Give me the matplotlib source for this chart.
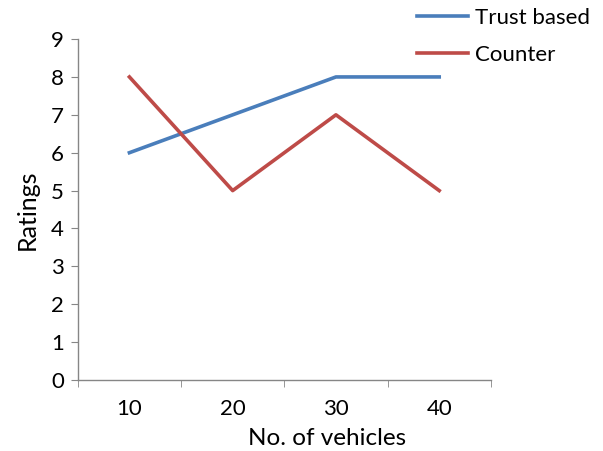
import matplotlib.pyplot as plt
import numpy as np

plt.rcParams['font.family'] = ['Lato', 'DejaVu Sans']

vehicles = ["10", "20", "30", "40"]
trust_based = [6, 7, 8, 8]
counter = [8, 5, 7, 5]

fig = plt.figure(figsize=(6.03, 4.51), dpi=100)
ax = fig.add_axes([0.129, 0.1574, 0.685, 0.756])

x = np.arange(len(vehicles))
ax.plot(x, trust_based, color="#4A7EBB", lw=2.6, label="Trust based")
ax.plot(x, counter, color="#BE4B48", lw=2.6, label="Counter")

ax.set_xlim(-0.5, len(vehicles) - 0.5)
ax.set_ylim(0, 9)
ax.set_yticks(range(0, 10))
ax.set_xticks(x)
ax.set_xticklabels(vehicles)
ax.set_xticks(np.arange(-0.5, len(vehicles)), minor=True)

for side in ("top", "right"):
    ax.spines[side].set_visible(False)
for side in ("left", "bottom"):
    ax.spines[side].set_color("#868686")
    ax.spines[side].set_linewidth(1.0)

ax.tick_params(axis="y", length=5, color="#868686", labelsize=16, pad=5)
ax.tick_params(axis="x", which="major", length=0, labelsize=16, pad=14)
ax.tick_params(axis="x", which="minor", length=5, color="#868686")

ax.set_xlabel("No. of vehicles", fontsize=17.5, labelpad=0)
ax.xaxis.set_label_coords(0.603, -0.14)
ax.set_ylabel("Ratings", fontsize=18, labelpad=9)

ax.legend(loc="upper left", bbox_to_anchor=(417 / 603, 0.983), bbox_transform=fig.transFigure,
          frameon=False, fontsize=16, handlelength=2.3, handletextpad=0.32,
          labelspacing=0.78, borderpad=0, borderaxespad=0)

fig.savefig("out.png", dpi=100)
